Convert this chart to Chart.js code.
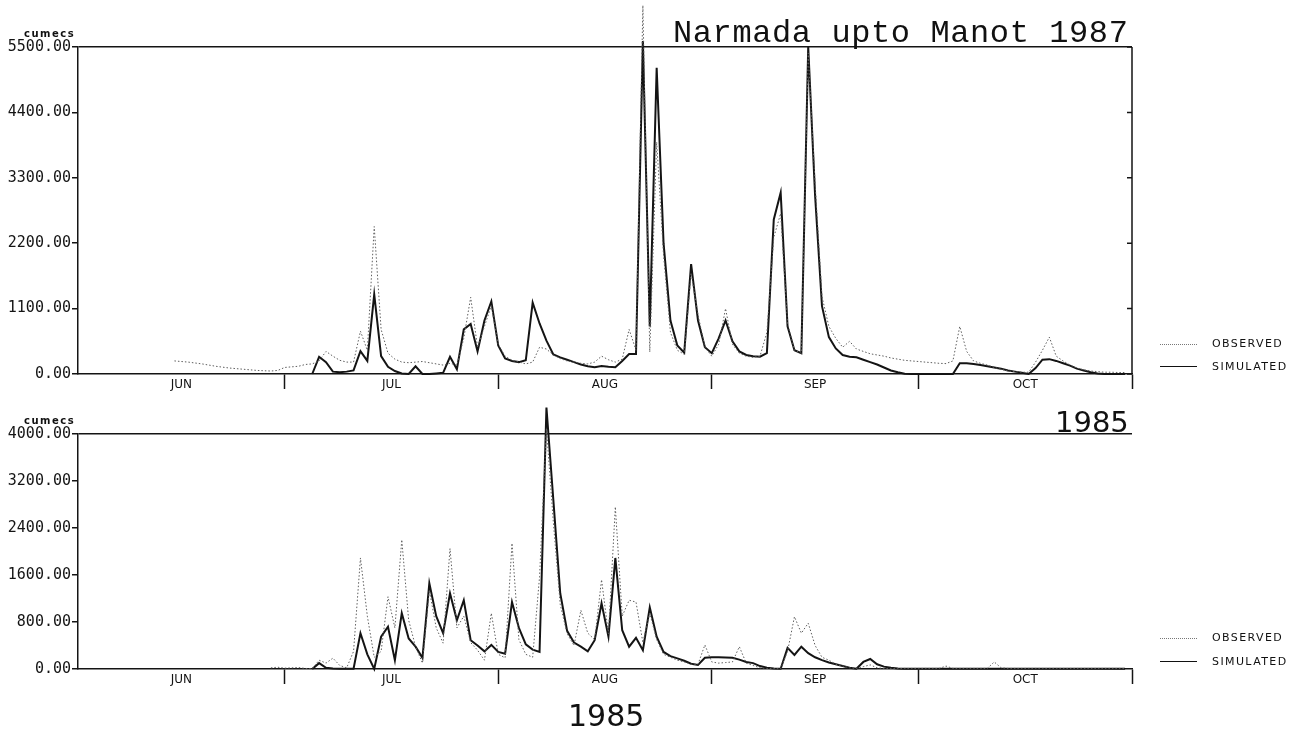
<!DOCTYPE html>
<html><head><meta charset="utf-8">
<script src="https://cdn.jsdelivr.net/npm/chart.js@4.4.1/dist/chart.umd.min.js"></script>
<style>
html,body{margin:0;padding:0;background:#fff;}
#wrap{position:relative;width:1306px;height:733px;overflow:hidden;background:#fff;}
canvas{position:absolute;left:0;}
.t{position:absolute;white-space:nowrap;color:#111;line-height:1;}
.title{font-family:"Liberation Mono",monospace;font-size:32px;letter-spacing:0.6px;left:673px;top:18px;}
.yr{font-family:"DejaVu Sans",sans-serif;font-size:29px;}
.unit{font-family:"DejaVu Sans",sans-serif;font-weight:bold;font-size:10px;letter-spacing:1.5px;left:24px;}
.lgt{font-family:"DejaVu Sans",sans-serif;font-size:11px;letter-spacing:1.4px;left:1212px;}
.lgl{position:absolute;left:1160px;width:37px;height:0;}
.obs{border-top:1px dotted #777;}
.sim{border-top:1.5px solid #111;}
</style></head><body>
<div id="wrap">
<canvas id="c1" width="1306" height="400" style="top:0;width:1306px;height:400px"></canvas>
<canvas id="c2" width="1306" height="333" style="top:400px;width:1306px;height:333px"></canvas>
<div class="t title">Narmada upto Manot 1987</div>
<div class="t unit" style="top:29px">cumecs</div>
<div class="t unit" style="top:416px">cumecs</div>
<div class="t yr" style="left:1055px;top:408px">1985</div>
<div class="t yr" style="left:568px;top:701px;font-size:30px">1985</div>
<div class="lgl obs" style="top:344px"></div>
<div class="t lgt" style="top:338px">OBSERVED</div>
<div class="lgl sim" style="top:366px"></div>
<div class="t lgt" style="top:361px">SIMULATED</div>
<div class="lgl obs" style="top:638px"></div>
<div class="t lgt" style="top:632px">OBSERVED</div>
<div class="lgl sim" style="top:661px"></div>
<div class="t lgt" style="top:656px">SIMULATED</div>
</div>
<script>
// ---- data (daily, day 0 = 1 June) ----
const MONTHS = ['JUN','JUL','AUG','SEP','OCT'];
const MONTH_DAYS = [30,31,31,30,31];
const Y_TICKS_1987 = [0,1100,2200,3300,4400,5500];
const Y_TICKS_1985 = [0,800,1600,2400,3200,4000];

const N = null;
const observed1987 = [N,N,N,N,N,N,N,N,N,N,N,N,N,N,
 220,210,200,185,170,150,130,115,100,90,80,70,60,55,50,60,
 110,120,130,160,170,220,380,300,230,200,
 200,720,400,2480,750,350,250,200,190,200,
 210,190,170,150,180,150,600,1290,450,800,
 1150,500,300,230,200,170,200,450,420,320,
 260,220,200,180,170,200,300,240,200,250,
 750,400,6200,370,3900,2000,700,400,330,1700,
 1000,450,300,500,1100,500,350,300,280,300,
 700,2300,2700,850,400,350,5400,3200,1300,800,
 600,450,550,420,380,340,320,300,270,250,
 230,220,210,200,190,180,175,220,800,380,
 220,180,150,110,80,50,40,30,30,200,
 400,620,300,220,150,100,70,50,40,30,
 30,25,25];
const simulated1987 = [N,N,N,N,N,N,N,N,N,N,N,N,N,N,N,N,N,N,N,N,N,N,N,N,N,N,N,N,N,N,N,N,N,N,
 0,290,200,40,30,40,
 60,385,220,1340,300,120,50,10,0,130,
 0,0,10,20,290,80,750,840,380,900,
 1220,480,260,220,200,230,1200,850,560,330,
 280,240,200,160,130,115,135,120,115,220,
 335,335,5600,800,5150,2200,900,480,360,1850,
 900,450,350,600,900,550,380,320,300,290,
 350,2600,3050,800,400,350,5500,3000,1140,620,
 430,320,290,280,240,200,160,110,60,30,
 5,0,0,0,0,0,0,0,180,180,
 170,150,130,110,90,60,40,20,0,100,
 240,250,220,180,140,90,60,30,10,0,
 0,0,0];
const observed1985 = [N,N,N,N,N,N,N,N,N,N,N,N,N,N,N,N,N,N,N,N,N,N,N,N,N,N,N,N,
 20,30,15,20,25,10,5,150,100,185,60,20,
 300,1890,900,200,300,1230,700,2200,830,380,
 100,1340,700,440,2050,700,900,450,320,150,
 950,250,190,2140,500,250,200,1570,4100,2500,
 1100,600,400,1000,610,500,1520,600,2760,900,
 1170,1140,450,950,500,250,200,150,120,80,
 80,410,120,100,110,120,380,100,60,20,
 10,5,5,300,890,610,780,400,200,150,
 80,50,20,10,40,70,20,10,10,10,
 10,10,10,10,10,10,50,10,10,10,
 10,10,10,120,20,10,10,10,10,10,
 10,10,10,10,10,10,10,10,10,10,
 10,10,10];
const simulated1985 = [N,N,N,N,N,N,N,N,N,N,N,N,N,N,N,N,N,N,N,N,N,N,N,N,N,N,N,N,N,N,N,N,N,N,
 0,100,20,10,5,5,
 5,610,250,0,550,720,150,950,520,380,
 190,1460,900,610,1290,830,1170,490,400,300,
 410,290,260,1140,700,420,330,290,4450,2880,
 1290,650,450,380,300,490,1120,550,1890,660,
 380,530,320,1050,550,290,220,180,140,90,
 70,190,200,200,195,190,160,120,100,50,
 20,10,5,360,240,380,270,200,150,110,
 80,50,20,5,120,170,80,40,20,10,
 5,5,5,5,5,5,5,5,5,5,
 5,5,5,5,5,5,5,5,5,5,
 5,5,5,5,5,5,5,5,5,5,
 5,5,5];

// ---- helpers ----
const TOTAL_DAYS = MONTH_DAYS.reduce((a,b)=>a+b,0);
const bounds = []; const centers = [];
{ let s = 0; MONTH_DAYS.forEach((d,i)=>{ centers.push(s + d/2); s += d; bounds.push(s); }); }
const pts = vals => vals.map((v,i)=>({x:i, y:v}));
const INK = '#141414';

const rightFrame = {
  id:'rightFrame',
  afterDraw(chart, args, opts){
    if(!opts || !opts.on) return;
    const {ctx, chartArea:a} = chart; const y = chart.scales.y;
    ctx.save(); ctx.strokeStyle = INK; ctx.lineWidth = 1.5; ctx.beginPath();
    ctx.moveTo(a.right, a.top); ctx.lineTo(a.right, a.bottom);
    y.ticks.forEach(t=>{ const py = y.getPixelForValue(t.value); ctx.moveTo(a.right-5, py); ctx.lineTo(a.right, py); });
    ctx.stroke(); ctx.restore();
  }
};

function makeChart(id, obs, sim, yTicks, padTop, xHeight, frame){
  const yMax = yTicks[yTicks.length-1];
  return new Chart(document.getElementById(id), {
    type:'line',
    data:{ datasets:[
      {label:'OBSERVED', data:pts(obs), borderColor:'#5e5e5e', borderWidth:1, borderDash:[1.5,2], pointRadius:0, tension:0, clip:false, spanGaps:false, order:1},
      {label:'SIMULATED', data:pts(sim), borderColor:INK, borderWidth:2, pointRadius:0, tension:0, clip:false, spanGaps:false, order:2}
    ]},
    options:{
      responsive:false, animation:false, devicePixelRatio:1,
      layout:{padding:{top:padTop, right:174, left:0, bottom:0}},
      plugins:{legend:{display:false}, tooltip:{enabled:false}, rightFrame:{on:frame}},
      scales:{
        x:{ type:'linear', min:0, max:TOTAL_DAYS,
            afterBuildTicks: s => { const t=[]; centers.forEach((c,i)=>{t.push({value:c}); t.push({value:bounds[i]});}); s.ticks = t; },
            afterFit: s => { s.height = xHeight; },
            ticks:{ autoSkip:false, maxRotation:0, padding:-11, color:INK,
                    font:{family:'DejaVu Sans', size:12},
                    callback:(v)=>{ const i = centers.indexOf(v); return i>=0 ? MONTHS[i] : ''; } },
            grid:{ drawOnChartArea:false, drawTicks:true, tickLength:15, tickWidth:1.5,
                   color: c => (c.tick && bounds.includes(c.tick.value)) ? INK : 'rgba(0,0,0,0)',
                   tickColor: c => (c.tick && bounds.includes(c.tick.value)) ? INK : 'rgba(0,0,0,0)' },
            border:{display:true, color:INK, width:1.5}
        },
        y:{ min:0, max:yMax,
            afterBuildTicks: s => { s.ticks = yTicks.map(v=>({value:v})); },
            afterFit: s => { s.width = 78; },
            ticks:{ padding:1, color:INK, font:{family:'DejaVu Sans Mono', size:15}, callback:v=>Number(v).toFixed(2) },
            grid:{ drawOnChartArea:true, drawTicks:true, tickLength:6, tickWidth:1.5, lineWidth:1.5,
                   color: c => (c.tick && c.tick.value===yMax) ? INK : 'rgba(0,0,0,0)', tickColor:INK },
            border:{display:true, color:INK, width:1.5}
        }
      }
    },
    plugins:[rightFrame]
  });
}

makeChart('c1', observed1987, simulated1987, Y_TICKS_1987, 47, 26, true);
makeChart('c2', observed1985, simulated1985, Y_TICKS_1985, 34, 64, false);
</script>
</body></html>
